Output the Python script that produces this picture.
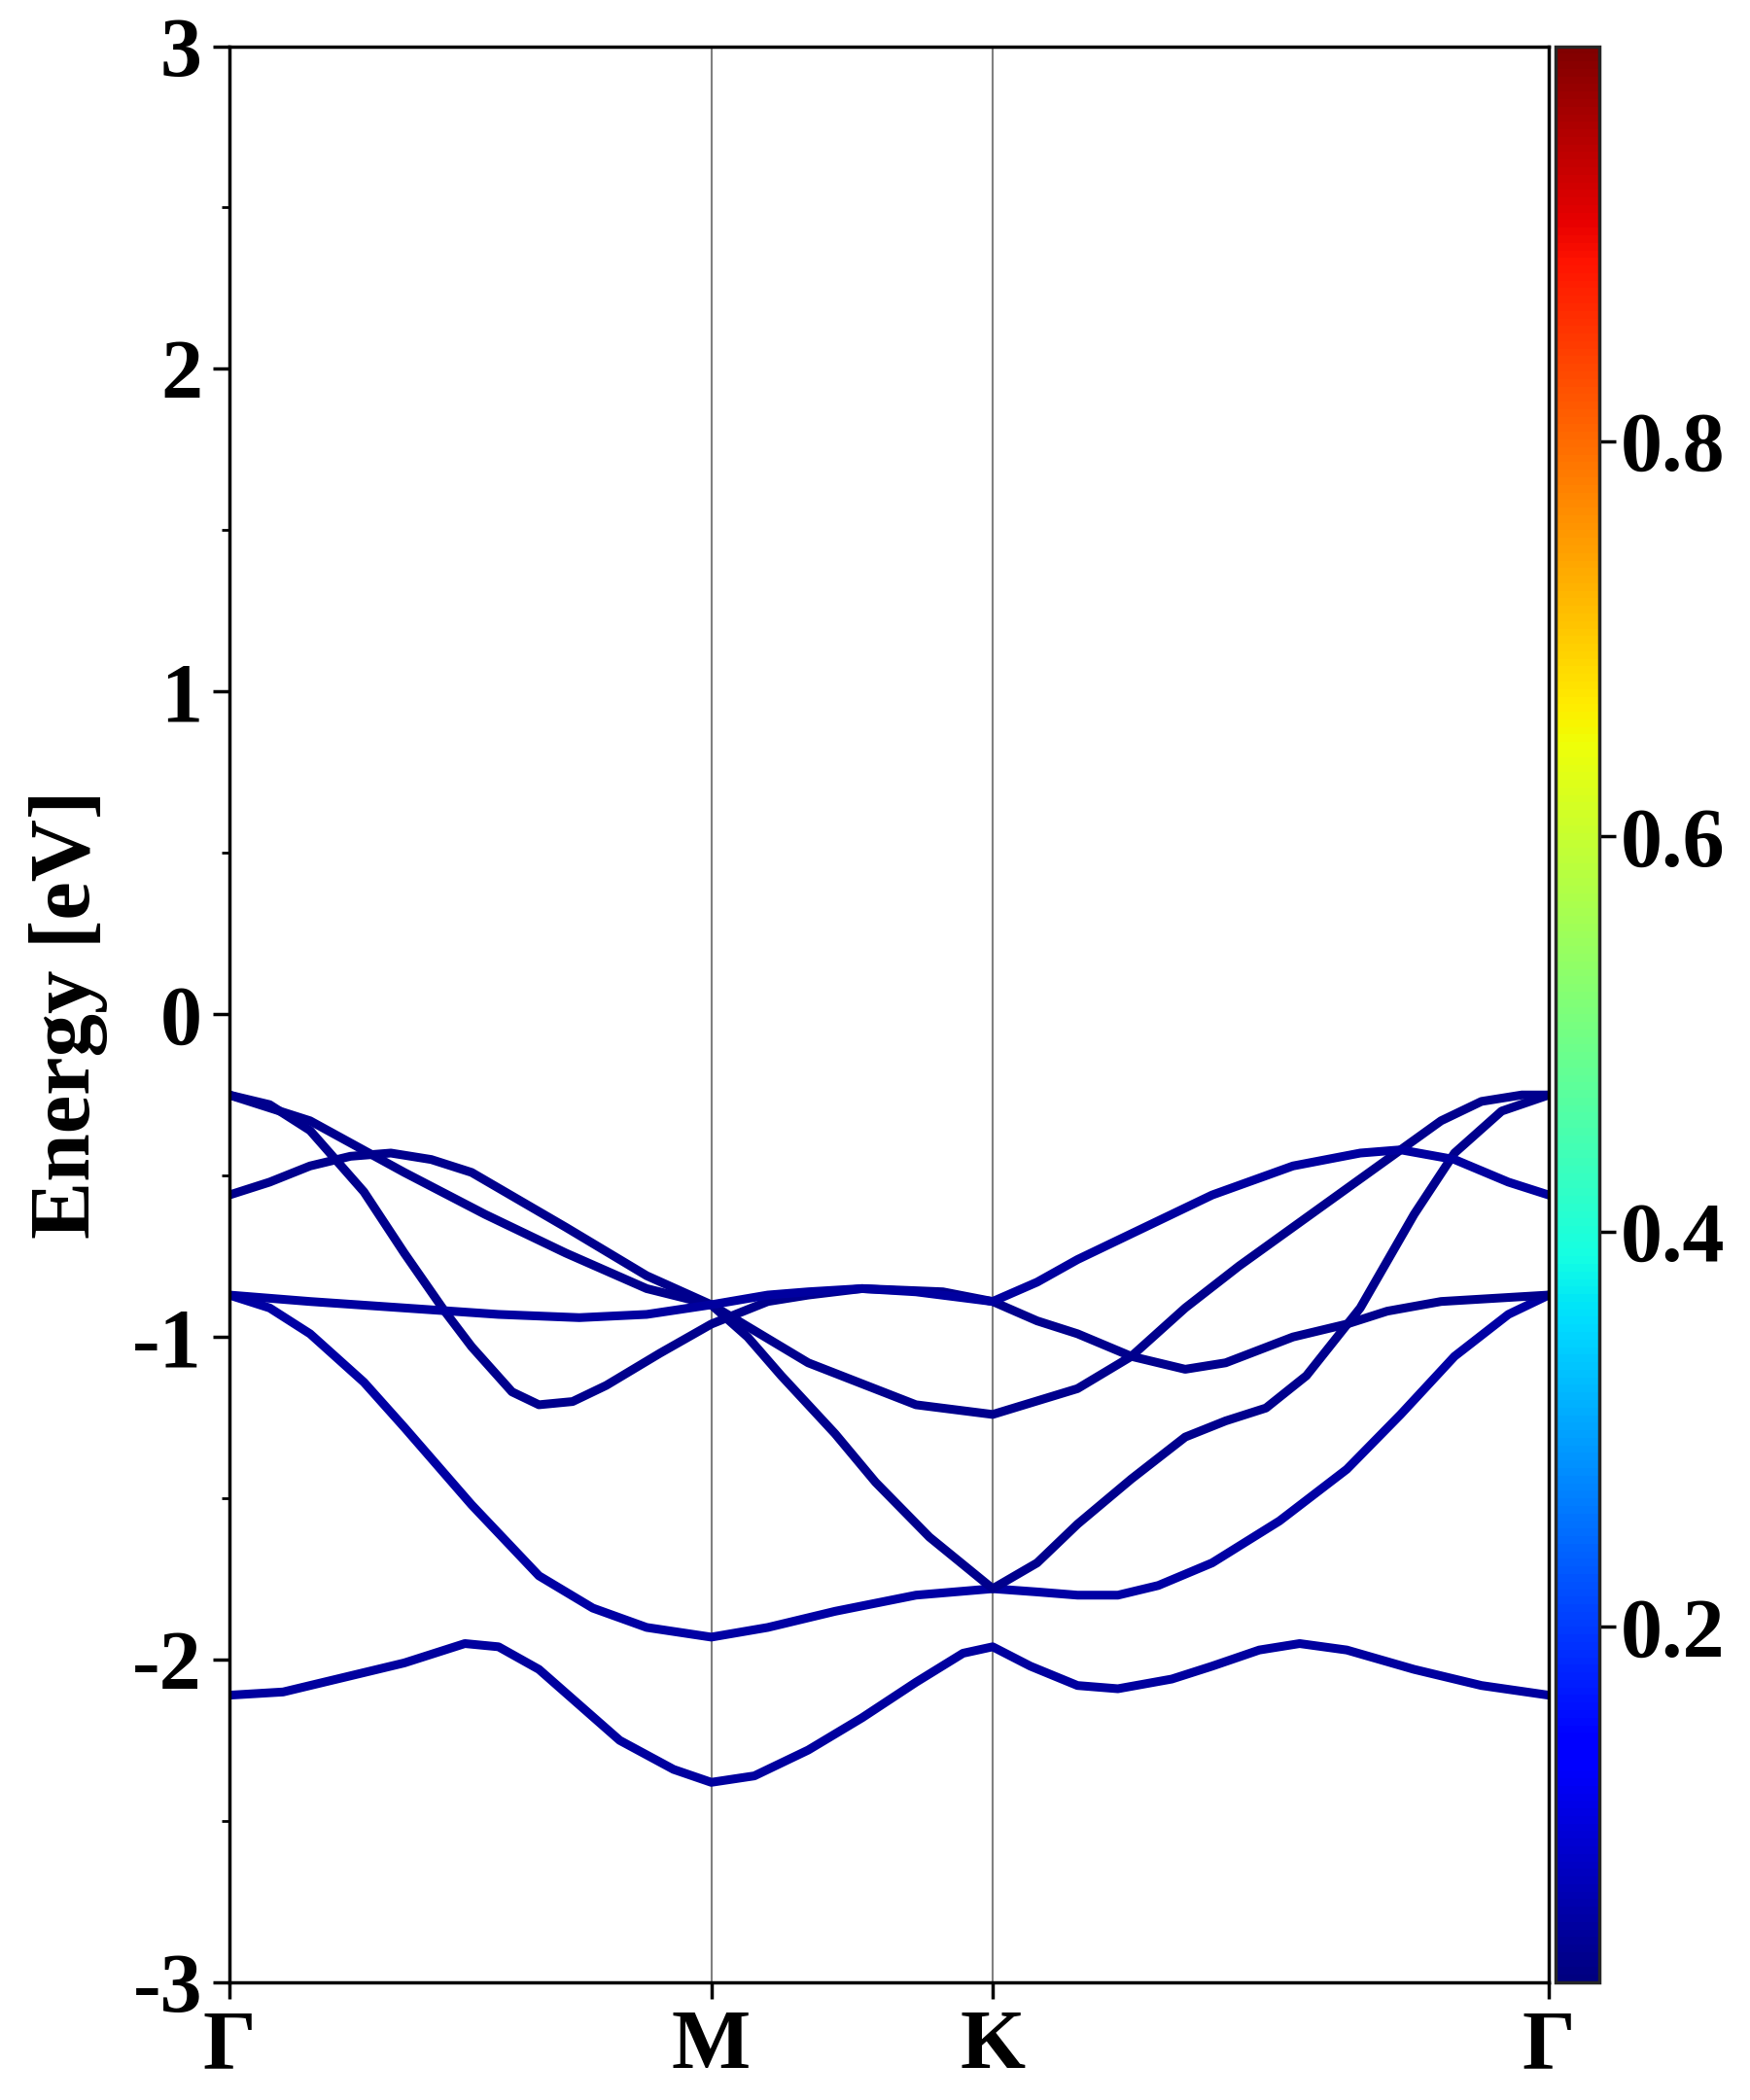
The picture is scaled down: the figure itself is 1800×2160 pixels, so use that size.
import numpy as np, pandas as pd, seaborn as sns, matplotlib
matplotlib.use("Agg")
import matplotlib.pyplot as plt
from matplotlib.ticker import MultipleLocator

sns.set_style("white")
plt.rcParams['font.family'] = ['Liberation Serif', 'DejaVu Serif']
plt.rcParams['font.weight'] = 'bold'
plt.rcParams['text.color'] = 'black'
plt.rcParams['axes.labelcolor'] = 'black'
plt.rcParams['xtick.color'] = 'black'
plt.rcParams['ytick.color'] = 'black'

tick_pos = [0, 358, 567, 980]
tick_labels = ["Γ", "M", "K", "Γ"]

band1_k = [0, 40, 80, 130, 175, 200, 230, 260, 290, 330, 358, 390, 430, 470, 510, 545, 567, 595, 630, 660, 700, 730, 765, 795, 830, 880, 930, 980]
band1_e = [-2.11, -2.10, -2.06, -2.01, -1.95, -1.96, -2.03, -2.14, -2.25, -2.34, -2.38, -2.36, -2.28, -2.18, -2.07, -1.98, -1.96, -2.02, -2.08, -2.09, -2.06, -2.02, -1.97, -1.95, -1.97, -2.03, -2.08, -2.11]
band2_k = [0, 30, 60, 100, 130, 180, 230, 270, 310, 358, 400, 450, 510, 567, 600, 630, 660, 690, 730, 780, 830, 870, 910, 950, 980]
band2_e = [-0.87, -0.91, -0.99, -1.14, -1.28, -1.52, -1.74, -1.84, -1.90, -1.93, -1.90, -1.85, -1.80, -1.78, -1.79, -1.80, -1.80, -1.77, -1.70, -1.57, -1.41, -1.24, -1.06, -0.93, -0.87]
bandA_k = [0, 60, 130, 190, 250, 310, 358, 385, 410, 450, 480, 520, 567, 600, 630, 670, 710, 740, 770, 800, 840, 880, 910, 945, 980]
bandA_e = [-0.25, -0.33, -0.49, -0.62, -0.74, -0.85, -0.90, -1.00, -1.12, -1.30, -1.45, -1.62, -1.78, -1.70, -1.58, -1.44, -1.31, -1.26, -1.22, -1.12, -0.91, -0.62, -0.43, -0.30, -0.25]
bandB_k = [0, 30, 60, 100, 130, 160, 180, 210, 230, 255, 280, 320, 358, 400, 430, 470, 530, 567, 600, 630, 670, 710, 740, 790, 830, 860, 900, 940, 980]
bandB_e = [-0.25, -0.28, -0.36, -0.55, -0.74, -0.92, -1.03, -1.17, -1.21, -1.20, -1.15, -1.05, -0.96, -0.89, -0.87, -0.85, -0.86, -0.89, -0.95, -0.99, -1.06, -1.10, -1.08, -1.00, -0.96, -0.92, -0.89, -0.88, -0.87]
bandC_k = [0, 30, 60, 90, 120, 150, 180, 250, 310, 358, 430, 510, 567, 630, 670, 710, 750, 790, 830, 870, 900, 930, 960, 980]
bandC_e = [-0.56, -0.52, -0.47, -0.44, -0.43, -0.45, -0.49, -0.66, -0.81, -0.90, -1.08, -1.21, -1.24, -1.16, -1.06, -0.91, -0.78, -0.66, -0.54, -0.42, -0.33, -0.27, -0.25, -0.25]
bandD_k = [0, 60, 130, 200, 260, 310, 358, 400, 430, 470, 510, 567, 600, 630, 680, 730, 790, 840, 870, 910, 950, 980]
bandD_e = [-0.87, -0.89, -0.91, -0.93, -0.94, -0.93, -0.90, -0.87, -0.86, -0.85, -0.86, -0.89, -0.83, -0.76, -0.66, -0.56, -0.47, -0.43, -0.42, -0.45, -0.52, -0.56]
weights = [0.03, 0.035, 0.015, 0.015, 0.015, 0.03]

bands = [(band1_k, band1_e), (band2_k, band2_e), (bandA_k, bandA_e),
         (bandB_k, bandB_e), (bandC_k, bandC_e), (bandD_k, bandD_e)]

fig = plt.figure(figsize=(18, 21.6), dpi=100)
ax = fig.add_axes([0.131, 0.056, 0.754, 0.922])
cax = fig.add_axes([0.889, 0.056, 0.025, 0.922])
cmap = plt.get_cmap("jet")
norm = matplotlib.colors.Normalize(0.0, 1.0)

for x in tick_pos[1:3]:
    ax.axvline(x, color="grey", lw=1.5, zorder=0)
for (k, e), w in zip(bands, weights):
    df = pd.DataFrame({"k": k, "E": e})
    sns.lineplot(data=df, x="k", y="E", ax=ax, color=cmap(norm(w)), lw=6.5, sort=False,
                 solid_joinstyle="round", solid_capstyle="round")

ax.set_xlim(0, 980)
ax.set_ylim(-3, 3)
ax.set_xticks(tick_pos)
ax.set_xticklabels(tick_labels)
ax.set_yticks([-3, -2, -1, 0, 1, 2, 3])
ax.set_yticklabels(["-3", "-2", "-1", "0", "1", "2", "3"])
ax.yaxis.set_minor_locator(MultipleLocator(0.5))
ax.tick_params(axis="both", which="major", labelsize=62, length=12, width=2.5, direction="out",
               left=True, bottom=True, pad=8)
ax.tick_params(axis="y", which="minor", length=6, width=2, left=True)
ax.set_xlabel("")
ax.set_ylabel("Energy [eV]", fontsize=64, fontweight="bold", labelpad=18)
for s in ax.spines.values():
    s.set_linewidth(2.5)
    s.set_color("black")

sm = matplotlib.cm.ScalarMappable(norm=matplotlib.colors.Normalize(0.02, 1.0), cmap=cmap)
cb = fig.colorbar(sm, cax=cax, ticks=[0.2, 0.4, 0.6, 0.8])
cb.ax.tick_params(labelsize=62, length=12, width=2.5)
cb.outline.set_linewidth(2.5)

fig.savefig("out.png", dpi=100)
